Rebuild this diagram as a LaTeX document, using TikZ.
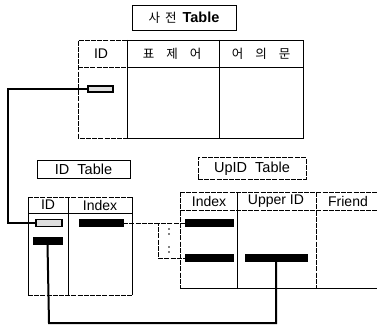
\documentclass[tikz,border=0pt]{standalone}
\usepackage{fontspec}
\setmainfont{Liberation Sans}
\newfontfamily\kr{Noto Sans CJK KR}
\begin{document}
\begin{tikzpicture}[x=1pt,y=-1pt,
  titlebox/.style={draw, line width=0.7pt, inner sep=0pt, font=\fontsize{14.5}{16}\selectfont},
  hdr/.style={inner sep=0pt, font=\fontsize{14}{16}\selectfont},
  grid/.style={line width=0.7pt},
  dgrid/.style={line width=0.7pt, dash pattern=on 5pt off 1.2pt},
  bar/.style={fill=black, draw=black, inner sep=0pt, minimum height=7pt},
  keybox/.style={draw=black, line width=1.1pt, fill=gray!25, inner sep=0pt, minimum width=25pt, minimum height=6pt},
  link/.style={line width=2.8pt},
  thinlink/.style={line width=2pt},
  ellipsis/.style={fill=black, circle, inner sep=0pt, minimum size=1.8pt}]
\useasboundingbox (0,0) rectangle (377,329);

% ---- dictionary table ----
\node[titlebox, minimum width=104pt, minimum height=25pt] (t1) at (184,17.5) {{\kr\fontsize{12.5}{14}\selectfont 사\hspace{5pt}전}\hspace{6pt}\textbf{Table}};
\draw[grid] (127,40) -- (303,40) -- (303,138) -- (127,138);
\draw[dgrid] (127,40) -- (78,40) -- (78,138) -- (127,138);
\draw[grid] (127,67) -- (303,67);
\draw[dgrid] (78,67) -- (127,67);
\draw[grid] (127,40) -- (127,138) (219,40) -- (219,138);
\node[hdr] (h1) at (101,54) {ID};
\node[hdr, font=\kr\fontsize{12.5}{14}\selectfont] (h2) at (172,54) {표\hspace{12pt}제\hspace{12pt}어};
\node[hdr, font=\kr\fontsize{12.5}{14}\selectfont] (h3) at (261,54) {어\hspace{12pt}의\hspace{12pt}문};
\node[keybox] (k1) at (100.5,89) {};

% ---- ID table ----
\node[titlebox, minimum width=93pt, minimum height=18pt] (t2) at (83.5,169) {ID\ \ Table};
\draw[dgrid] (28,197) -- (132,197);
\draw[grid] (28,197) -- (28,295) (132,197) -- (132,295);
\draw[dgrid] (28,295) -- (132,295);
\draw[grid] (28,213) -- (132,213);
\draw[grid] (68,197) -- (68,295);
\node[hdr] (h4) at (48,205) {ID};
\node[hdr] (h5) at (100,205) {Index};
\node[keybox, minimum width=26pt, minimum height=7pt] (k2) at (49,223) {};
\node[bar, minimum width=44pt] (b1) at (101,223) {};
\node[bar, minimum width=29pt] (b2) at (47.5,240.5) {};

% ---- UpID table ----
\node[titlebox, dash pattern=on 5pt off 1.2pt, minimum width=108pt, minimum height=22pt] (t3) at (252,168.5) {UpID\ \ Table};
\draw[dgrid] (180,192) -- (377,192);
\draw[dgrid] (180,192) -- (180,288);
\draw[grid] (180,288) -- (377,288);
\draw[dgrid] (180,210) -- (377,210);
\draw[grid] (237,192) -- (237,288);
\draw[dgrid] (316,192) -- (316,288);
\node[hdr] (h6) at (209,201) {Index};
\node[hdr] (h7) at (276,201) {Upper ID};
\node[hdr] (h8) at (348,201) {Friend};
\node[bar, minimum width=48pt] (b3) at (209,223) {};
\node[bar, minimum width=48pt] (b4) at (209,258) {};
\node[bar, minimum width=62pt] (b5) at (276,258) {};

% bracket grouping the matching Index rows
\coordinate (g1) at (158,223);
\coordinate (g2) at (158,258);
\draw[dgrid] (b1.east) -- (g1);
\draw[dgrid] (b3.west) -- (g1) -- (g2) -- (b4.west);
\node[ellipsis] (d1) at (169,229) {};
\node[ellipsis] (d2) at (169,234) {};
\node[ellipsis] (d3) at (169,247) {};
\node[ellipsis] (d4) at (169,252) {};

% ---- connectors ----
\coordinate (c1) at (8,89);
\coordinate (c2) at (8,223);
\draw[link, line join=miter] (k1.west) -- (c1) -- (c2) -- (k2.west);
\coordinate (c3) at (49,323);
\coordinate (c4) at (276,323);
\draw[thinlink, line join=miter] (b2.south) -- (c3) -- (c4) -- (b5.south);
\end{tikzpicture}
\end{document}
